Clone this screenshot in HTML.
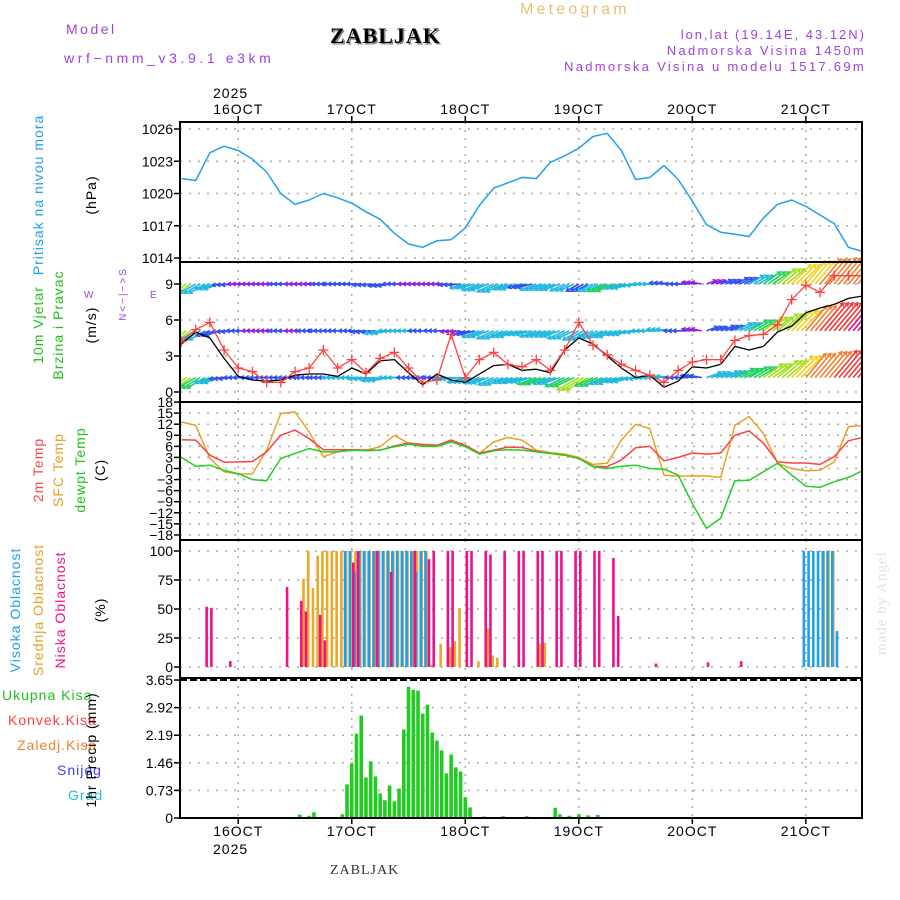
<!DOCTYPE html>
<html><head><meta charset="utf-8">
<style>
body{margin:0;background:#fff;}
svg{display:block;font-family:"Liberation Sans",sans-serif;}
.t{font-size:14px;letter-spacing:1px;}
.tick{font-size:14px;text-anchor:end;fill:#000;}
</style></head>
<body>
<svg id="chart" width="900" height="900" viewBox="0 0 900 900" xmlns="http://www.w3.org/2000/svg">
<defs><clipPath id="plotclip"><rect x="180" y="122" width="682" height="696"/></clipPath></defs>
<rect x="0" y="0" width="900" height="900" fill="#fff"/>
<!-- header -->
<text x="66" y="34" fill="#a040e0" style="font-size:14px;letter-spacing:2.5px">Model</text>
<text x="64" y="63" fill="#a040e0" style="font-size:14px;letter-spacing:3.6px">wrf−nmm_v3.9.1 e3km</text>
<text x="330" y="43" font-family="Liberation Serif,serif" font-weight="bold" font-size="22" fill="#888" dx="1.5" dy="1.5" letter-spacing="1">ZABLJAK</text>
<text x="330" y="43" font-family="Liberation Serif,serif" font-weight="bold" font-size="22" fill="#000" letter-spacing="1">ZABLJAK</text>
<text x="520" y="14" fill="#e8c070" style="font-size:16px;letter-spacing:3.2px">Meteogram</text>
<text x="866" y="39" text-anchor="end" fill="#a040e0" style="font-size:13px;letter-spacing:2px">lon,lat (19.14E, 43.12N)</text>
<text x="866" y="55" text-anchor="end" fill="#a040e0" style="font-size:13px;letter-spacing:2.3px">Nadmorska Visina 1450m</text>
<text x="866" y="71" text-anchor="end" fill="#a040e0" style="font-size:13px;letter-spacing:2.3px">Nadmorska Visina u modelu 1517.69m</text>
<text x="213" y="98" class="t" font-size="15">2025</text>
<text x="213" y="854" class="t" font-size="15">2025</text>
<text x="330" y="874" font-family="Liberation Serif,serif" font-size="14" fill="#333" letter-spacing="1">ZABLJAK</text>
<text transform="translate(886,655) rotate(-90)" font-size="15" fill="#dde4dd" letter-spacing="1" font-family="Liberation Serif,serif">made by Angel</text>
<!-- left labels -->
<text transform="translate(43,195) rotate(-90)" text-anchor="middle" class="t" fill="#1ea0f0">Pritisak na nivou mora</text>
<text transform="translate(96,195) rotate(-90)" text-anchor="middle" class="t">(hPa)</text>
<text transform="translate(43,325) rotate(-90)" text-anchor="middle" class="t" fill="#20c020">10m Vjetar</text>
<text transform="translate(63,325) rotate(-90)" text-anchor="middle" class="t" fill="#20c020">Brzina i Pravac</text>
<text transform="translate(96,325) rotate(-90)" text-anchor="middle" class="t">(m/s)</text>
<text transform="translate(126,294) rotate(-90)" text-anchor="middle" fill="#a040e0" style="font-size:10px;letter-spacing:2px">N&lt;−|−&gt;S</text>
<text x="84" y="298" font-size="10" fill="#a040e0">W</text>
<text x="150" y="298" font-size="10" fill="#a040e0">E</text>
<text transform="translate(43,470) rotate(-90)" text-anchor="middle" class="t" fill="#ff4040">2m Temp</text>
<text transform="translate(63,470) rotate(-90)" text-anchor="middle" class="t" fill="#e8a020">SFC Temp</text>
<text transform="translate(85,470) rotate(-90)" text-anchor="middle" class="t" fill="#20c020">dewpt Temp</text>
<text transform="translate(105,470) rotate(-90)" text-anchor="middle" class="t">(C)</text>
<text transform="translate(20,610) rotate(-90)" text-anchor="middle" class="t" fill="#1ea0f0">Visoka Oblacnost</text>
<text transform="translate(43,610) rotate(-90)" text-anchor="middle" class="t" fill="#e8a020">Srednja Oblacnost</text>
<text transform="translate(65,610) rotate(-90)" text-anchor="middle" class="t" fill="#f0108a">Niska Oblacnost</text>
<text transform="translate(105,610) rotate(-90)" text-anchor="middle" class="t">(%)</text>
<text x="2" y="700" class="t" fill="#20c020">Ukupna Kisa</text>
<text x="8" y="725" class="t" fill="#ff4040">Konvek.Kisa</text>
<text x="17" y="750" class="t" fill="#f08030">Zaledj.Kisa</text>
<text x="57" y="775" class="t" fill="#4040f0">Snijeg</text>
<text x="68" y="800" class="t" fill="#20c0d0">Grad</text>
<text transform="translate(96,750) rotate(-90)" text-anchor="middle" class="t">1hr Precip (mm)</text>
<g id="plot"></g>
</svg>
<script>
// ---- data (hour offsets from 15OCT 12Z, 3h steps for series) ----
const dayLabels = ["16OCT","17OCT","18OCT","19OCT","20OCT","21OCT"];
const dayHours = [12,36,60,84,108,132];
const pTicks = [1026,1023,1020,1017,1014];
const pressure = [1021.4,1021.2,1023.8,1024.4,1024.0,1023.2,1022.0,1020.0,1019.0,1019.4,1020.0,1019.6,1019.1,1018.3,1017.6,1016.3,1015.3,1015.0,1015.6,1015.7,1016.8,1018.9,1020.5,1021.0,1021.5,1021.4,1022.9,1023.5,1024.2,1025.3,1025.6,1024.0,1021.3,1021.5,1022.6,1021.3,1019.3,1017.1,1016.4,1016.2,1016.0,1017.7,1019.0,1019.4,1018.8,1018.0,1017.2,1015.0,1014.6];
const wTicks = [9,6,3,0];
const windGust = [4.2,5.2,5.8,3.5,2.0,1.7,0.8,0.8,1.7,2.0,3.5,2.0,2.7,1.6,2.8,3.3,2.0,0.8,1.0,4.8,1.2,2.7,3.3,2.3,2.1,2.7,1.8,3.5,5.8,3.9,3.1,2.3,1.8,1.4,0.8,1.8,2.5,2.7,2.7,4.3,4.7,4.8,5.6,7.7,8.9,8.3,9.7,9.7,9.7];
const windSpeed = [4.0,5.0,4.5,2.8,1.3,1.0,0.9,1.0,1.4,1.5,1.5,1.3,2.0,1.5,2.6,2.7,1.6,0.6,1.5,1.0,0.8,1.5,2.2,2.3,1.8,1.9,1.6,3.5,4.5,4.0,3.0,2.0,1.2,1.4,0.4,0.9,2.1,2.0,2.3,3.8,3.5,3.8,5.0,5.5,6.6,7.0,7.3,7.8,8.0];
const bandTop = [12,8,6,3,2,2,2,3,2,2,3,5,5,4,3,3,2,2,2,3,6,8,8,6,5,7,7,6,5,7,10,7,8,7,5,4,2,2,3,5,7,10,12,15,17,19,20,20,20];
const bandMid = [13,8,5,3,3,2,2,3,2,3,5,5,4,5,6,6,6,5,4,2,5,8,8,8,6,7,7,8,8,7,8,6,8,8,7,5,2,3,5,8,10,12,14,16,19,22,22,24,25];
const bandBot = [14,10,6,5,5,3,3,3,3,4,5,6,6,7,8,6,3,3,5,8,8,7,7,6,8,9,8,10,13,9,8,7,6,6,7,4,3,6,8,10,10,12,14,17,18,20,21,23,25];
const windDir = [215,210,200,185,180,180,180,180,180,180,180,180,180,185,190,180,180,180,180,185,195,200,205,200,195,200,200,205,210,205,200,195,185,180,175,180,170,20,20,25,30,35,40,45,50,50,50,50,50];
const tTicks = [18,15,12,9,6,3,0,-3,-6,-9,-12,-15,-18];
const temp2m = [7.8,7.7,3.6,1.7,1.8,1.9,4.5,9.0,10.4,8.1,5.1,5.1,5.1,5.0,5.0,6.1,6.9,6.4,6.3,7.7,6.3,4.2,5.0,5.8,5.7,4.7,4.1,3.6,2.7,0.6,0.5,2.3,5.6,6.0,2.1,3.0,4.2,3.9,4.2,9.0,10.2,6.9,1.8,1.5,1.5,1.1,3.2,7.5,8.4];
const tempSfc = [12.6,11.7,2.7,-0.9,-1.5,-1.5,5.0,14.9,15.3,9.9,3.2,4.5,5.0,5.0,5.9,9.0,6.8,6.6,6.3,7.5,5.9,4.1,7.2,8.4,7.7,5.0,4.3,3.9,3.0,1.1,1.4,7.7,12.0,10.8,-1.8,-2.1,-2.0,-2.0,-2.4,11.7,14.1,9.5,1.4,0.0,-0.6,-0.5,1.8,11.3,11.7];
const tempDew = [3.0,0.6,0.9,-0.5,-1.4,-3.0,-3.3,2.7,4.1,5.4,4.5,4.5,5.0,4.8,5.0,5.9,6.6,6.0,6.0,7.2,5.9,3.9,4.8,5.1,5.0,4.5,4.1,3.6,2.7,0.5,0.0,0.6,0.9,0.0,-0.2,-1.8,-9.5,-16.2,-13.5,-3.3,-3.2,-0.9,1.4,-1.8,-4.8,-5.1,-3.6,-2.4,-0.6];
const cTicks = [100,75,50,25,0];
const lowHours = [5,6,10,22,25,26,29,30,36,37,41,44,49,52,53,56,57,60,61,64,65,68,71,72,75,76,79,80,83,84,87,88,91,92,100,111,118];
const lowVals  = [52,51,5,69,57,48,45,23,90,100,100,82,100,93,100,100,100,100,100,100,97,100,100,100,100,100,100,100,100,100,100,100,94,44,3,4,5];
const midHours = [26,27,28,29,30,31,32,33,34,35,36,37,38,39,40,41,42,43,44,45,46,47,48,49,50,51,52,53,55,57,58,59,63,65,66,67,76,77,136,137,138];
const midVals  = [76,100,68,96,100,100,100,100,100,100,100,100,100,100,100,100,100,100,100,100,100,100,100,100,100,100,100,2,20,17,22,51,5,33,10,8,20,21,100,100,100];
const highHours = [35,36,37,38,39,40,41,42,43,44,45,46,47,48,49,50,51,52,132,133,134,135,136,137,138,139];
const highVals  = [100,100,82,100,100,100,100,100,100,100,100,100,100,100,100,82,100,100,100,100,100,100,100,100,100,31];
const rTicks = ["3.65","2.92","2.19","1.46","0.73","0"];
const rainHours = [25,27,28,34,35,36,37,38,39,40,41,42,43,44,45,46,47,48,49,50,51,52,53,54,55,56,57,58,59,60,61,64,68,73,79,80,82,84,86,88];
const rainVals  = [0.09,0.06,0.15,0.1,0.89,1.44,2.23,2.71,1.07,1.5,1.1,0.65,0.47,0.86,0.44,0.78,2.34,3.47,3.39,3.37,2.76,3.0,2.26,2.05,1.79,1.18,1.68,1.34,1.23,0.55,0.28,0.04,0.05,0.05,0.27,0.1,0.06,0.1,0.07,0.08];

// ---- scales ----
const X0=181.5, XH=4.73, L=180, R=862;
const xs = h => X0 + h*XH;
const py = p => 129 + (1026-p)*10.75;
const wy = v => 392 - v*12;
const ty = t => 468.5 - t*3.69;
const cy = c => 667 - c*1.16;
const ry = r => 818 - r*37.8;
const NS="http://www.w3.org/2000/svg";
const root=document.getElementById('plot');
const g=document.createElementNS(NS,'g');
g.setAttribute('clip-path','url(#plotclip)');


root.appendChild(g);
function mk(tag,attrs,parent){const e=document.createElementNS(NS,tag);for(const k in attrs)e.setAttribute(k,attrs[k]);(parent||g).appendChild(e);return e;}

const panels=[[122,262],[262,402],[402,540],[540,678],[678,818]];
function hgrid(y){const l=mk('line',{x1:L,x2:R,y1:y,y2:y,stroke:'#aaa','stroke-width':1.5,'stroke-dasharray':'2,7'});

}
function tick(y,label){const l=mk('line',{x1:L-6,x2:L,y1:y,y2:y,stroke:'#000','stroke-width':1.5},root);


const t=mk('text',{x:L-7,y:y+5,class:'tick'},root);t.textContent=label;

}
pTicks.forEach(p=>{hgrid(py(p));tick(py(p),p);});
wTicks.forEach(v=>{hgrid(wy(v));tick(wy(v),v);});
tTicks.forEach(t=>{hgrid(ty(t));tick(ty(t),t<0?'−'+(-t):t);});
cTicks.forEach(c=>{hgrid(cy(c));tick(cy(c),c);});
rTicks.forEach(r=>{const v=parseFloat(r);if(v<3.6)hgrid(ry(v));tick(ry(v),r);});
dayHours.forEach((h,i)=>{
  panels.forEach(([a,b])=>{const l=mk('line',{x1:xs(h),x2:xs(h),y1:a,y2:b,stroke:'#aaa','stroke-width':1.5,'stroke-dasharray':'2,6'});
  
  });
  const t1=mk('line',{x1:xs(h),x2:xs(h),y1:116,y2:122,stroke:'#000','stroke-width':1.5},root);
  
  
  const t2=mk('line',{x1:xs(h),x2:xs(h),y1:818,y2:824,stroke:'#000','stroke-width':1.5},root);
  
  
  const a=mk('text',{x:xs(h),y:114,'text-anchor':'middle',class:'t','font-size':15},root);a.textContent=dayLabels[i];
  
  
  const b=mk('text',{x:xs(h),y:836,'text-anchor':'middle',class:'t','font-size':15},root);b.textContent=dayLabels[i];
  
  
});
function poly(arr,yf,color,name,w){const pts=arr.map((v,i)=>xs(i*3).toFixed(1)+','+yf(v).toFixed(1)).join(' ');
const p=mk('polyline',{points:pts,fill:'none',stroke:color,'stroke-width':w||1.5,'stroke-linejoin':'round'});

return p;}
poly(pressure,py,'#1ea0f0','pressure-line');
function col(s){const stops=[[2,'#9020e0'],[5,'#3050f0'],[8,'#20b8e0'],[11,'#20d060'],[14,'#a0e020'],[17,'#f0d020'],[20,'#f08030'],[23,'#f03838'],[26,'#e01090']];
for(let i=0;i<stops.length;i++){if(s<=stops[i][0])return stops[i][1];}return stops[stops.length-1][1];}
function band(arr,base,name){arr.forEach((s,i)=>{const x=xs(i*3),y=wy(base);const len=8+s*1.3,a=windDir[i]*Math.PI/180;
 const x2=x+len*Math.cos(a),y2=y-len*Math.sin(a);
 for(let k=0;k<3;k++){const off=k*4.7;const xa=x+off,xb=x2+off;
  const l=mk('line',{x1:xa,y1:y,x2:xb,y2:y2,stroke:col(s),'stroke-width':1.6});
  
  
  const h1=a+2.6,h2=a-2.6;
  const hd=mk('polyline',{points:`${xb+4*Math.cos(h1)},${y2-4*Math.sin(h1)} ${xb},${y2} ${xb+4*Math.cos(h2)},${y2-4*Math.sin(h2)}`,fill:'none',stroke:col(s),'stroke-width':1.4});
  
  }
});}
band(bandTop,9,'wind-barb-top');
band(bandMid,5.1,'wind-barb-mid');
band(bandBot,1.2,'wind-barb-low');
poly(windSpeed,wy,'#000','wind-speed-line',1.3);
poly(windGust,wy,'#ff4040','wind-gust-line',1.3);
windGust.forEach((v,i)=>{const x=xs(i*3),y=wy(v);
 const m=mk('path',{d:`M${x-5},${y}H${x+5}M${x},${y-5}V${y+5}`,stroke:'#ff4040','stroke-width':1.3});
 
 });
poly(tempSfc,ty,'#e8a020','sfc-temp-line');
poly(temp2m,ty,'#ff4040','temp-2m-line');
poly(tempDew,ty,'#20d020','dewpoint-line');
function bars(hours,vals,color,off,name){hours.forEach((h,i)=>{const x=xs(h)+off,y=cy(vals[i]);
 const r=mk('rect',{x:x-1.3,y:y,width:2.6,height:cy(0)-y,fill:color});
 
 });}
bars(midHours,midVals,'#e8a828',-1,'cloud-mid-bar');
bars(highHours,highVals,'#1ea0f0',-2,'cloud-high-bar');
bars(lowHours,lowVals,'#f0108a',1.5,'cloud-low-bar');
rainHours.forEach((h,i)=>{const x=xs(h),y=ry(rainVals[i]);
 const r=mk('rect',{x:x-1.8,y:y,width:3.6,height:ry(0)-y,fill:'#20cc20'});
 
 });
panels.forEach(([a,b])=>{const r=mk('rect',{x:L,y:a,width:R-L,height:b-a,fill:'none',stroke:'#000','stroke-width':2},root);

});
const d=mk('line',{x1:L,x2:R,y1:680,y2:680,stroke:'#000','stroke-width':2,'stroke-dasharray':'7,3'},root);


</script>
</body></html>
